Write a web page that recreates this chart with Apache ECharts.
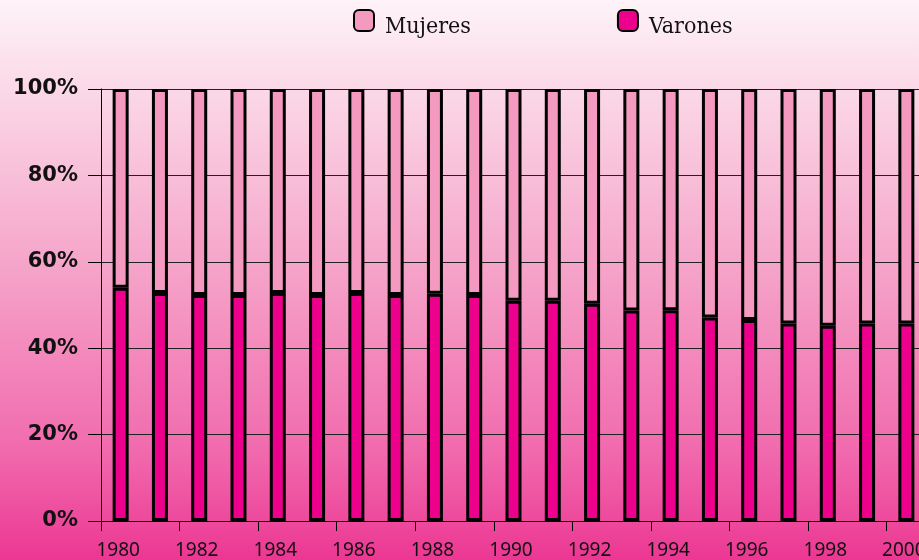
<!DOCTYPE html>
<html>
<head>
<meta charset="utf-8">
<script src="https://cdn.jsdelivr.net/npm/echarts@6/dist/echarts.min.js"></script>
<style>
  html, body { margin: 0; padding: 0; }
  #chart { width: 919px; height: 560px; }
</style>
</head>
<body>
<div id="chart"></div>
<script>
const years = ['1980', '1981', '1982', '1983', '1984', '1985', '1986', '1987', '1988', '1989', '1990',
  '1991', '1992', '1993', '1994', '1995', '1996', '1997', '1998', '1999', '2000'];
const varones = [54.0, 52.8, 52.3, 52.3, 52.8, 52.3, 52.8, 52.3, 52.6, 52.3, 51.0,
  51.0, 50.3, 48.7, 48.8, 47.1, 46.5, 45.7, 45.2, 45.7, 45.7];
const mujeres = [46.0, 47.2, 47.7, 47.7, 47.2, 47.7, 47.2, 47.7, 47.4, 47.7, 49.0,
  49.0, 49.7, 51.3, 51.2, 52.9, 53.5, 54.3, 54.8, 54.3, 54.3];
const yTicks = [0, 20, 40, 60, 80, 100];

const myChart = echarts.init(document.getElementById('chart'));

// both stacks share the heavy black outline
const barStyle = (color) => ({
  color: color,
  borderColor: '#000',
  borderWidth: 3
});

myChart.setOption({
  animation: false,
  backgroundColor: new echarts.graphic.LinearGradient(0, 0, 0, 1, [
    { offset: 0, color: '#fef3f8' },
    { offset: 0.15, color: '#fbdae8' },
    { offset: 0.5, color: '#f5a0c7' },
    { offset: 0.8, color: '#f16bae' },
    { offset: 1, color: '#ec3793' }
  ]),
  legend: {
    data: ['Mujeres', 'Varones'],
    left: 348,
    top: 4,
    itemWidth: 20,
    itemHeight: 21,
    itemGap: 146,
    icon: 'roundRect',
    formatter: '{t|{name}}',
    textStyle: {
      rich: {
        t: {
          fontFamily: '"DejaVu Serif Condensed", "DejaVu Serif"',
          fontSize: 23,
          color: '#111',
          lineHeight: 36,
          verticalAlign: 'bottom',
          padding: [0, 0, 0, 6]
        }
      }
    }
  },
  grid: {
    left: 101,
    right: -7,
    top: 89,
    bottom: 39,
    outerBoundsMode: 'none'
  },
  xAxis: {
    type: 'category',
    data: years,
    axisLine: { lineStyle: { color: '#000', width: 1 } },
    axisTick: { show: true, length: 10, lineStyle: { color: '#000' } },
    axisLabel: {
      interval: 1,
      margin: 20,
      color: '#111',
      fontFamily: '"Noto Sans"',
      fontSize: 19,
      padding: [0, 5, 0, 0]
    }
  },
  yAxis: {
    type: 'value',
    min: yTicks[0],
    max: yTicks[yTicks.length - 1],
    interval: 20,
    axisLine: { show: true, lineStyle: { color: '#000', width: 1 } },
    axisTick: { show: true, length: 13, lineStyle: { color: '#000' } },
    splitLine: { lineStyle: { color: '#222', width: 1 } },
    axisLabel: {
      margin: 23,
      color: '#111',
      fontFamily: '"DejaVu Sans"',
      fontWeight: 'bold',
      fontSize: 21,
      formatter: '{value}%'
    }
  },
  series: [
    {
      name: 'Varones',
      type: 'bar',
      stack: 'total',
      barWidth: 16,
      data: varones,
      itemStyle: barStyle('#ec008c')
    },
    {
      name: 'Mujeres',
      type: 'bar',
      stack: 'total',
      barWidth: 16,
      data: mujeres,
      itemStyle: barStyle('#f49ac1')
    }
  ]
});
</script>
</body>
</html>
